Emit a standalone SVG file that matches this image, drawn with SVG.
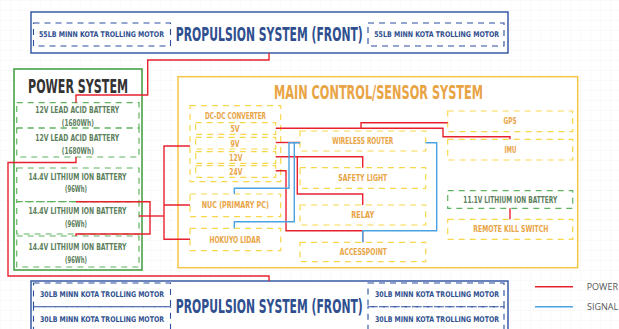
<svg xmlns="http://www.w3.org/2000/svg" width="619" height="329" viewBox="0 0 619 329">
<defs>
<pattern id="grid" width="10" height="10" patternUnits="userSpaceOnUse">
<path d="M10 0H0V10" fill="none" stroke="#efefef" stroke-width="0.6"/>
</pattern>
<style>
.t{font-family:"DejaVu Sans Condensed","DejaVu Sans",sans-serif;font-weight:bold;text-anchor:middle}
.blue{fill:#2f4f8f}
.orange{fill:#e8a445}
.green{fill:#5c805c}
.prop{fill:#fff;stroke:#2b4fa0;stroke-width:1.4}
.pdash{fill:none;stroke:#2b4fa0;stroke-width:1.1;stroke-dasharray:6 5}
.pwr{fill:#fff;stroke:#3c9a3c;stroke-width:1.5}
.gdash{fill:none;stroke:#5fb35f;stroke-width:1.2;stroke-dasharray:6 5}
.main{fill:#fff;stroke:#f7c548;stroke-width:1.5}
.ydash{fill:#fff;stroke:#f8d84a;stroke-width:1.2;stroke-dasharray:6 5}
.r{fill:none;stroke:#e8212e;stroke-width:1.4}
.b{fill:none;stroke:#4aa3e0;stroke-width:1.4}
.leg{font-family:"Open Sans","DejaVu Sans",sans-serif;font-size:9px;fill:#555}
</style>
</defs>
<rect width="619" height="329" fill="#fff"/>
<rect width="619" height="329" fill="url(#grid)"/>

<g id="propulsion-front">
<rect class="prop" x="31" y="12" width="477" height="41"/>
<rect class="pdash" x="33.5" y="23" width="137" height="23"/>
<rect class="pdash" x="368" y="23" width="136" height="23"/>
<text class="t blue" x="101.5" y="37.3" font-size="7.8" textLength="125" lengthAdjust="spacingAndGlyphs">55LB MINN KOTA TROLLING MOTOR</text>
<text class="t blue" transform="translate(269.3 40.5) scale(1 1.65)" font-size="12" textLength="187" lengthAdjust="spacingAndGlyphs">PROPULSION SYSTEM (FRONT)</text>
<text class="t blue" x="436.7" y="37.3" font-size="7.8" textLength="125" lengthAdjust="spacingAndGlyphs">55LB MINN KOTA TROLLING MOTOR</text>
</g>

<g id="propulsion-rear">
<rect class="prop" x="31" y="281" width="477" height="60"/>
<rect class="pdash" x="33.5" y="283" width="137" height="23.7"/>
<rect class="pdash" x="33.5" y="306.7" width="137" height="30"/>
<rect class="pdash" x="368" y="283" width="136" height="23.7"/>
<rect class="pdash" x="368" y="306.7" width="136" height="30"/>
<text class="t blue" x="102" y="296.7" font-size="7.8" textLength="124" lengthAdjust="spacingAndGlyphs">30LB MINN KOTA TROLLING MOTOR</text>
<text class="t blue" x="102" y="321.7" font-size="7.8" textLength="124" lengthAdjust="spacingAndGlyphs">30LB MINN KOTA TROLLING MOTOR</text>
<text class="t blue" transform="translate(269.3 312.7) scale(1 1.65)" font-size="12" textLength="187" lengthAdjust="spacingAndGlyphs">PROPULSION SYSTEM (FRONT)</text>
<text class="t blue" x="437" y="296.7" font-size="7.8" textLength="124" lengthAdjust="spacingAndGlyphs">30LB MINN KOTA TROLLING MOTOR</text>
<text class="t blue" x="437" y="321.7" font-size="7.8" textLength="124" lengthAdjust="spacingAndGlyphs">30LB MINN KOTA TROLLING MOTOR</text>
</g>

<g id="power-system">
<rect class="pwr" x="14" y="69" width="128" height="201"/>
<text class="t" fill="#333" transform="translate(78 93.3) scale(1 1.6)" font-size="12.4" textLength="100" lengthAdjust="spacingAndGlyphs">POWER SYSTEM</text>
</g>
<g id="battery-lead-1">
<rect class="gdash" x="16.7" y="102.7" width="122.3" height="25.3"/>
<text class="t green" x="77.2" y="112.7" font-size="9" textLength="84" lengthAdjust="spacingAndGlyphs">12V LEAD ACID BATTERY</text>
<text class="t green" x="77.8" y="126" font-size="9" textLength="32" lengthAdjust="spacingAndGlyphs">(1680Wh)</text>
</g>
<g id="battery-lead-2">
<rect class="gdash" x="16.7" y="128" width="122.3" height="29"/>
<text class="t green" x="77.2" y="140.7" font-size="9" textLength="84" lengthAdjust="spacingAndGlyphs">12V LEAD ACID BATTERY</text>
<text class="t green" x="77.8" y="154" font-size="9" textLength="32" lengthAdjust="spacingAndGlyphs">(1680Wh)</text>
</g>
<g id="battery-li-1">
<rect class="gdash" x="16.7" y="168" width="122.3" height="33.7"/>
<text class="t green" x="77.5" y="179.5" font-size="9" textLength="98" lengthAdjust="spacingAndGlyphs">14.4V LITHIUM ION BATTERY</text>
<text class="t green" x="76" y="191.7" font-size="9" textLength="22" lengthAdjust="spacingAndGlyphs">(96Wh)</text>
</g>
<g id="battery-li-2">
<rect class="gdash" x="16.7" y="201.7" width="122.3" height="32.3"/>
<text class="t green" x="77.5" y="213.5" font-size="9" textLength="98" lengthAdjust="spacingAndGlyphs">14.4V LITHIUM ION BATTERY</text>
<text class="t green" x="76" y="226.7" font-size="9" textLength="22" lengthAdjust="spacingAndGlyphs">(96Wh)</text>
</g>
<g id="battery-li-3">
<rect class="gdash" x="16.7" y="236" width="122.3" height="31"/>
<text class="t green" x="77.5" y="249.5" font-size="9" textLength="98" lengthAdjust="spacingAndGlyphs">14.4V LITHIUM ION BATTERY</text>
<text class="t green" x="76" y="262.7" font-size="9" textLength="22" lengthAdjust="spacingAndGlyphs">(96Wh)</text>
</g>

<g id="main-control">
<rect class="main" x="178" y="76.7" width="399.7" height="191"/>
<text class="t orange" transform="translate(378.5 99) scale(1 1.52)" font-size="12.5" textLength="209" lengthAdjust="spacingAndGlyphs">MAIN CONTROL/SENSOR SYSTEM</text>
</g>
<g id="dcdc-converter">
<rect class="ydash" x="190" y="105.7" width="90.7" height="76"/>
<text class="t orange" x="235.5" y="119.3" font-size="8.5" textLength="61" lengthAdjust="spacingAndGlyphs">DC-DC CONVERTER</text>
<rect class="ydash" x="195.7" y="122.7" width="80" height="11.6"/>
<text class="t orange" x="235" y="132.3" font-size="9" textLength="9" lengthAdjust="spacingAndGlyphs">5V</text>
<rect class="ydash" x="195.7" y="137.3" width="80" height="11.7"/>
<text class="t orange" x="235" y="146.5" font-size="9" textLength="9" lengthAdjust="spacingAndGlyphs">9V</text>
<rect class="ydash" x="195.7" y="151.7" width="80" height="11.6"/>
<text class="t orange" x="235.8" y="160.7" font-size="9" textLength="13" lengthAdjust="spacingAndGlyphs">12V</text>
<rect class="ydash" x="195.7" y="165.7" width="80" height="11.6"/>
<text class="t orange" x="235.8" y="174.5" font-size="9" textLength="13" lengthAdjust="spacingAndGlyphs">24V</text>
</g>
<g id="nuc">
<rect class="ydash" x="190" y="194" width="90.7" height="22.7"/>
<text class="t orange" x="235.3" y="208" font-size="8.5" textLength="67" lengthAdjust="spacingAndGlyphs">NUC (PRIMARY PC)</text>
</g>
<g id="hokuyo-lidar">
<rect class="ydash" x="190" y="228.3" width="90.7" height="22.4"/>
<text class="t orange" x="235" y="242.7" font-size="8.5" textLength="51" lengthAdjust="spacingAndGlyphs">HOKUYO LIDAR</text>
</g>
<g id="wireless-router">
<rect class="ydash" x="300" y="131" width="125.7" height="20"/>
<text class="t orange" x="362.8" y="144.3" font-size="8.5" textLength="61" lengthAdjust="spacingAndGlyphs">WIRELESS ROUTER</text>
</g>
<g id="safety-light">
<rect class="ydash" x="300" y="167.7" width="125.7" height="20.6"/>
<text class="t orange" x="362.8" y="181" font-size="8.5" textLength="49" lengthAdjust="spacingAndGlyphs">SAFETY LIGHT</text>
</g>
<g id="relay">
<rect class="ydash" x="300" y="205" width="125.7" height="20"/>
<text class="t orange" x="362.7" y="217.8" font-size="8.5" textLength="23" lengthAdjust="spacingAndGlyphs">RELAY</text>
</g>
<g id="accesspoint">
<rect class="ydash" x="300" y="242.3" width="125.7" height="19.4"/>
<text class="t orange" x="363.3" y="255" font-size="8.5" textLength="47" lengthAdjust="spacingAndGlyphs">ACCESSPOINT</text>
</g>
<g id="gps">
<rect class="ydash" x="447.7" y="111" width="125" height="20.7"/>
<text class="t orange" x="510" y="124.3" font-size="8.5" textLength="13" lengthAdjust="spacingAndGlyphs">GPS</text>
</g>
<g id="imu">
<rect class="ydash" x="447.7" y="139.3" width="125" height="20.7"/>
<text class="t orange" x="510.5" y="152.7" font-size="8.5" textLength="12" lengthAdjust="spacingAndGlyphs">IMU</text>
</g>
<g id="battery-11v">
<rect class="gdash" x="447.7" y="190.7" width="125" height="17.6"/>
<text class="t green" x="510.3" y="202.7" font-size="8.5" textLength="94" lengthAdjust="spacingAndGlyphs">11.1V LITHIUM ION BATTERY</text>
</g>
<g id="remote-kill-switch">
<rect class="ydash" x="447.7" y="219.3" width="125" height="20"/>
<text class="t orange" x="510.8" y="232.3" font-size="8.5" textLength="75" lengthAdjust="spacingAndGlyphs">REMOTE KILL SWITCH</text>
</g>

<g id="connectors">
<path class="r" d="M269 53V60H147.7V95H76V102.7"/>
<path class="r" d="M76 157V162.5H8V276H269V281"/>
<path class="r" d="M76 201.7H150V234H76V236"/>
<path class="r" d="M139 216H164"/>
<path class="r" d="M190 146H164V239.3H190M164 205H190"/>
<path class="r" d="M275.7 128.3H361V122.7H447.7M361 128.3H443V136.7H510V139.3"/>
<path class="r" d="M275.7 142.5H300"/>
<path class="r" d="M275.7 156.7H362.7V167.7M297.3 156.7V194H362.7V205"/>
<path class="r" d="M275.7 170.7H286V230.7H362.7V242.3"/>
<path class="r" d="M510 208.3V219.3"/>
<path class="b" d="M300 142.7H289V188.3H234.3V194M294.3 142.7V221.7H234.3V228.3"/>
<path class="b" d="M425.7 142.7H436.7V230.7H362.7V242.3"/>
</g>

<g id="legend">
<line class="r" x1="535" y1="286.7" x2="573" y2="286.7"/>
<text class="leg" x="586.7" y="290">POWER</text>
<line class="b" x1="535" y1="306.7" x2="573" y2="306.7"/>
<text class="leg" x="587" y="310">SIGNAL</text>
</g>
</svg>
